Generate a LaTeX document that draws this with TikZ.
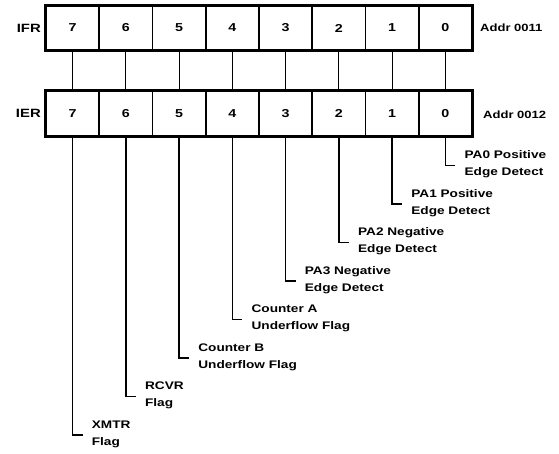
\documentclass[tikz,border=0pt]{standalone}
\usepackage{fontspec}
\setmainfont{Liberation Sans}[FakeStretch=1.24]
\begin{document}
\begin{tikzpicture}[x=1pt,y=-1pt,
  cell/.style={draw,line width=1.8pt,minimum width=53.25pt,minimum height=44pt,inner sep=0pt,font=\fontsize{11.5}{14}\selectfont\bfseries},
  reglab/.style={anchor=east,font=\fontsize{12}{14}\selectfont\bfseries,inner sep=0pt},
  addrlab/.style={anchor=west,font=\fontsize{10.5}{12}\selectfont\bfseries,inner sep=0pt},
  link/.style={line width=1.1pt},
  leg/.style={line width=1.3pt},
  desc/.style={anchor=west,align=left,inner sep=0pt,font=\fontsize{11}{17}\selectfont\bfseries}]
\useasboundingbox (0,0) rectangle (559,453);
% registers
\foreach \b [count=\i from 0] in {7,6,5,4,3,2,1,0}{
  \node[cell] (ifr\b) at ({46+26.625+53.25*\i},28) {\b};
  \node[cell] (ier\b) at ({46+26.625+53.25*\i},113.5) {\b};
}
\draw[line width=2.6pt] (ifr7.north west) rectangle (ifr0.south east);
\draw[line width=2.6pt] (ier7.north west) rectangle (ier0.south east);
\node[reglab] (ifrl) at (41,28) {IFR};
\node[reglab] (ierl) at (41,113.5) {IER};
\node[addrlab] (a1) at (480,28) {Addr 0011};
\node[addrlab] (a2) at (483,115) {Addr 0012};
% links between registers
\foreach \b in {7,6,5,4,3,2,1,0}{
  \draw[link] (ifr\b.south) -- (ier\b.north);
}
% legs and descriptions
\foreach \b/\txt [count=\k from 0] in {0/{PA0 Positive\\Edge Detect},1/{PA1 Positive\\Edge Detect},2/{PA2 Negative\\Edge Detect},3/{PA3 Negative\\Edge Detect},4/{Counter A\\Underflow Flag},5/{Counter B\\Underflow Flag},6/{RCVR\\Flag},7/{XMTR\\Flag}}{
  \path (ier\b.south) ++(10,{165+38.5*\k-136}) coordinate (c\b);
  \draw[leg] (ier\b.south) |- (c\b);
  \node[desc] (lab\b) at ([xshift=9pt,yshift=1pt]c\b) {\txt};
}
\end{tikzpicture}
\end{document}
